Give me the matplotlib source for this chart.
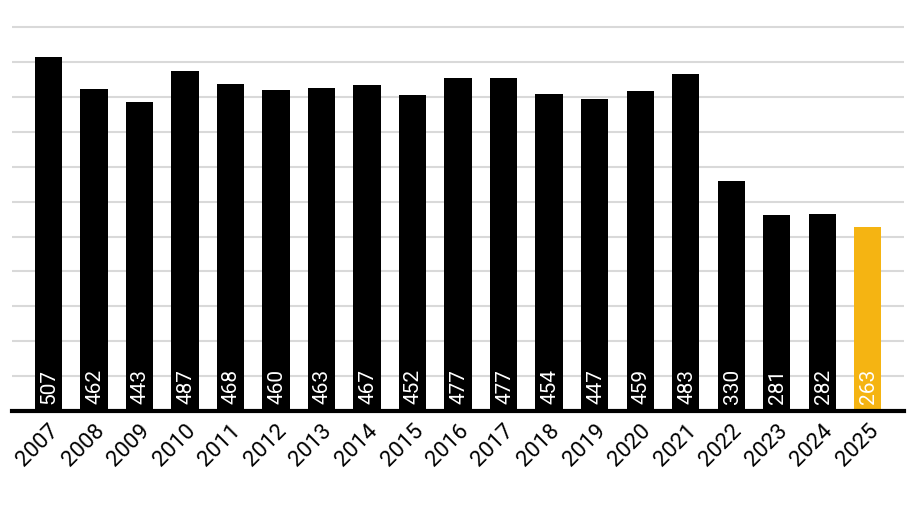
import matplotlib.pyplot as plt

plt.rcParams["font.family"] = ["Roboto", "DejaVu Sans"]

years = ["2007", "2008", "2009", "2010", "2011", "2012", "2013", "2014", "2015", "2016",
         "2017", "2018", "2019", "2020", "2021", "2022", "2023", "2024", "2025"]
values = [507, 462, 443, 487, 468, 460, 463, 467, 452, 477,
          477, 454, 447, 459, 483, 330, 281, 282, 263]
highlight_year = "2025"

COLOR_BAR = "#000000"
COLOR_HIGHLIGHT = "#f5b412"
COLOR_GRID = "#d9d9d9"

fig = plt.figure(figsize=(9.16, 5.13), dpi=100)
ax = fig.add_axes([0.0131, 0.1988, 0.974, 0.762])

x = list(range(len(years)))
colors = [COLOR_HIGHLIGHT if y == highlight_year else COLOR_BAR for y in years]
ax.bar(x, values, width=0.6, color=colors, zorder=2)

# valores em branco, na base de cada barra
for xi, v in zip(x, values):
    ax.text(xi + 0.02, 10, str(v), rotation=90, ha="center", va="bottom",
            color="white", fontsize=15, zorder=3)

ax.set_xlim(-0.8, 18.8)
ax.set_ylim(0, 560)
ax.set_yticks(range(50, 551, 50))
ax.yaxis.grid(True, color=COLOR_GRID, linewidth=1.5, zorder=0)
ax.set_axisbelow(True)
ax.tick_params(axis="y", left=False, labelleft=False)
ax.tick_params(axis="x", length=0, pad=7)
ax.set_xticks(x)
ax.set_xticklabels(years, rotation=45, ha="right", rotation_mode="anchor", fontsize=16)

for side in ["top", "right", "left"]:
    ax.spines[side].set_visible(False)
ax.spines["bottom"].set_linewidth(3)
ax.spines["bottom"].set_color("#000000")

fig.savefig("out.png", dpi=100)
